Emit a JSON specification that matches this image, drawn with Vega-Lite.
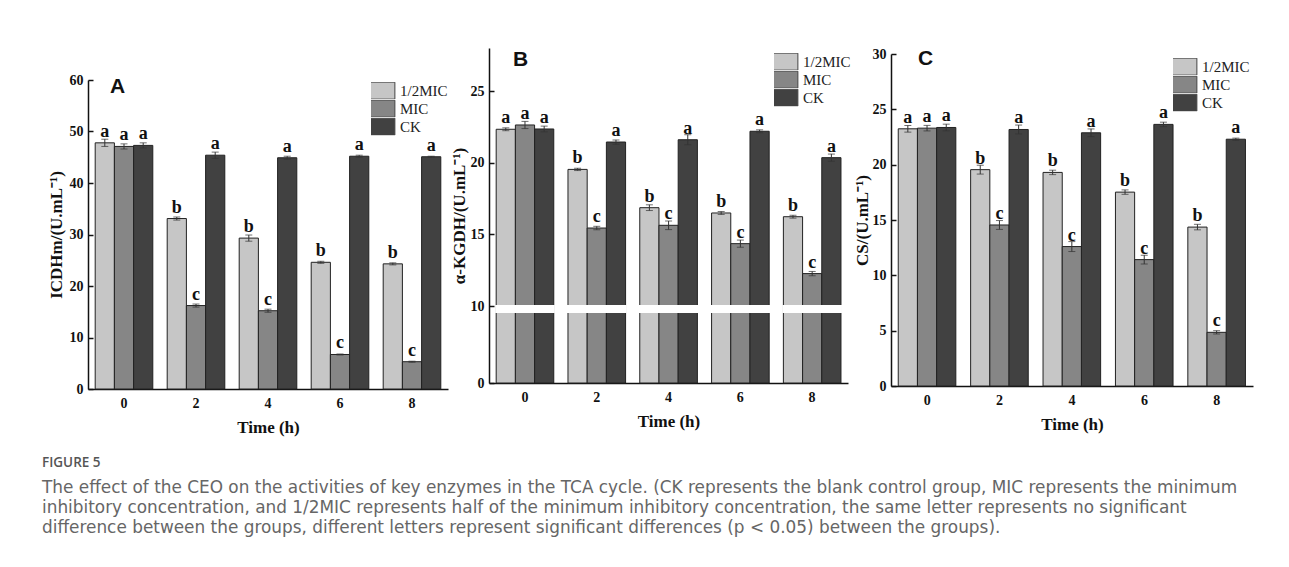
{
  "$schema": "https://vega.github.io/schema/vega-lite/v6.json",
  "padding": {"left": 42, "top": 47, "right": 10, "bottom": 10},
  "background": "white",
  "datasets": {
    "A": [
      {"time": "0", "group": "1/2MIC", "value": 47.8, "err": 0.7, "sig": "a"},
      {"time": "0", "group": "MIC", "value": 47.1, "err": 0.5, "sig": "a"},
      {"time": "0", "group": "CK", "value": 47.3, "err": 0.5, "sig": "a"},
      {"time": "2", "group": "1/2MIC", "value": 33.1, "err": 0.3, "sig": "b"},
      {"time": "2", "group": "MIC", "value": 16.2, "err": 0.3, "sig": "c"},
      {"time": "2", "group": "CK", "value": 45.4, "err": 0.6, "sig": "a"},
      {"time": "4", "group": "1/2MIC", "value": 29.3, "err": 0.6, "sig": "b"},
      {"time": "4", "group": "MIC", "value": 15.2, "err": 0.3, "sig": "c"},
      {"time": "4", "group": "CK", "value": 44.9, "err": 0.3, "sig": "a"},
      {"time": "6", "group": "1/2MIC", "value": 24.6, "err": 0.2, "sig": "b"},
      {"time": "6", "group": "MIC", "value": 6.7, "err": 0.1, "sig": "c"},
      {"time": "6", "group": "CK", "value": 45.2, "err": 0.2, "sig": "a"},
      {"time": "8", "group": "1/2MIC", "value": 24.3, "err": 0.2, "sig": "b"},
      {"time": "8", "group": "MIC", "value": 5.3, "err": 0.1, "sig": "c"},
      {"time": "8", "group": "CK", "value": 45.1, "err": 0.1, "sig": "a"}
    ],
    "B": [
      {"time": "0", "group": "1/2MIC", "value": 22.33, "err": 0.1, "sig": "a"},
      {"time": "0", "group": "MIC", "value": 22.63, "err": 0.25, "sig": "a"},
      {"time": "0", "group": "CK", "value": 22.35, "err": 0.2, "sig": "a"},
      {"time": "2", "group": "1/2MIC", "value": 19.53, "err": 0.08, "sig": "b"},
      {"time": "2", "group": "MIC", "value": 15.44, "err": 0.12, "sig": "c"},
      {"time": "2", "group": "CK", "value": 21.44, "err": 0.15, "sig": "a"},
      {"time": "4", "group": "1/2MIC", "value": 16.86, "err": 0.2, "sig": "b"},
      {"time": "4", "group": "MIC", "value": 15.63, "err": 0.3, "sig": "c"},
      {"time": "4", "group": "CK", "value": 21.6, "err": 0.35, "sig": "a"},
      {"time": "6", "group": "1/2MIC", "value": 16.49, "err": 0.1, "sig": "b"},
      {"time": "6", "group": "MIC", "value": 14.35, "err": 0.25, "sig": "c"},
      {"time": "6", "group": "CK", "value": 22.19, "err": 0.1, "sig": "a"},
      {"time": "8", "group": "1/2MIC", "value": 16.23, "err": 0.1, "sig": "b"},
      {"time": "8", "group": "MIC", "value": 12.26, "err": 0.15, "sig": "c"},
      {"time": "8", "group": "CK", "value": 20.35, "err": 0.25, "sig": "a"}
    ],
    "C": [
      {"time": "0", "group": "1/2MIC", "value": 23.24, "err": 0.3, "sig": "a"},
      {"time": "0", "group": "MIC", "value": 23.3, "err": 0.25, "sig": "a"},
      {"time": "0", "group": "CK", "value": 23.36, "err": 0.3, "sig": "a"},
      {"time": "2", "group": "1/2MIC", "value": 19.55, "err": 0.4, "sig": "b"},
      {"time": "2", "group": "MIC", "value": 14.55, "err": 0.4, "sig": "c"},
      {"time": "2", "group": "CK", "value": 23.18, "err": 0.4, "sig": "a"},
      {"time": "4", "group": "1/2MIC", "value": 19.3, "err": 0.2, "sig": "b"},
      {"time": "4", "group": "MIC", "value": 12.6, "err": 0.45, "sig": "c"},
      {"time": "4", "group": "CK", "value": 22.88, "err": 0.35, "sig": "a"},
      {"time": "6", "group": "1/2MIC", "value": 17.52, "err": 0.2, "sig": "b"},
      {"time": "6", "group": "MIC", "value": 11.42, "err": 0.4, "sig": "c"},
      {"time": "6", "group": "CK", "value": 23.64, "err": 0.2, "sig": "a"},
      {"time": "8", "group": "1/2MIC", "value": 14.36, "err": 0.25, "sig": "b"},
      {"time": "8", "group": "MIC", "value": 4.85, "err": 0.15, "sig": "c"},
      {"time": "8", "group": "CK", "value": 22.3, "err": 0.1, "sig": "a"}
    ]
  },
  "title": {
    "text": "FIGURE 5",
    "subtitle": [
      "The effect of the CEO on the activities of key enzymes in the TCA cycle. (CK represents the blank control group, MIC represents the minimum",
      "inhibitory concentration, and 1/2MIC represents half of the minimum inhibitory concentration, the same letter represents no significant",
      "difference between the groups, different letters represent significant differences (p < 0.05) between the groups)."
    ],
    "orient": "bottom",
    "anchor": "start",
    "frame": "bounds",
    "dx": -5,
    "offset": 21,
    "font": "Open Sans",
    "fontSize": 13.5,
    "fontWeight": 600,
    "color": "#555555",
    "subtitleFont": "DejaVu Sans",
    "subtitleFontSize": 16.9,
    "subtitleFontWeight": "normal",
    "subtitleColor": "#666666",
    "subtitleLineHeight": 20,
    "subtitlePadding": 10
  },
  "spacing": 2,
  "resolve": {
    "scale": {"fill": "independent", "y": "independent", "x": "independent"},
    "legend": {"fill": "independent"}
  },
  "hconcat": [
    {
      "width": 360,
      "height": 341,
      "data": {"name": "A"},
      "title": {"text": "A", "anchor": "start", "frame": "group", "font": "Liberation Sans", "fontSize": 21, "fontWeight": "bold", "color": "#111111", "baseline": "alphabetic", "offset": -66, "dx": 22},
      "encoding": {
        "y": {"field": "value", "type": "quantitative", "title": "ICDHm/(U.mL⁻¹)",
              "scale": {"domain": [0, 60], "range": [341, 32], "nice": false, "zero": false},
              "axis": {"values": [0, 10, 20, 30, 40, 50, 60], "titlePadding": 2}}
      },
      "layer": [
        {
          "mark": {"type": "bar", "stroke": "#222222", "strokeWidth": 1},
          "encoding": {
            "x": {"field": "time", "type": "nominal", "title": "Time (h)", "scale": {"paddingInner": 0.2, "paddingOuter": 0.1}},
            "xOffset": {"field": "group", "type": "nominal", "sort": ["1/2MIC", "MIC", "CK"]},
            "fill": {"field": "group", "type": "nominal",
                     "scale": {"domain": ["1/2MIC", "MIC", "CK"], "range": ["#c6c6c6", "#868686", "#414141"]},
                     "legend": {"orient": "none", "legendX": 283, "legendY": 34, "title": null, "symbolType": "M-1.75,-1H1.75V1H-1.75Z", "symbolSize": 289, "symbolStrokeColor": "#444444", "symbolStrokeWidth": 1, "labelFont": "Liberation Serif", "labelFontSize": 15, "labelColor": "#222222", "rowPadding": 0, "clipHeight": 17.3, "padding": 0, "labelOffset": 11}}
          }
        },
        {
          "mark": {"type": "errorbar", "ticks": {"size": 7}, "color": "#333333", "thickness": 1},
          "encoding": {
            "x": {"field": "time", "type": "nominal"},
            "xOffset": {"field": "group", "type": "nominal", "sort": ["1/2MIC", "MIC", "CK"]},
            "yError": {"field": "err"}
          }
        },
        {
          "mark": {"type": "text", "baseline": "alphabetic", "dy": -6, "font": "Liberation Serif", "fontWeight": "bold", "fontSize": 18, "color": "#111111"},
          "encoding": {
            "x": {"field": "time", "type": "nominal"},
            "xOffset": {"field": "group", "type": "nominal", "sort": ["1/2MIC", "MIC", "CK"]},
            "text": {"field": "sig"}
          }
        }
      ]
    },
    {
      "width": 359,
      "height": 335,
      "data": {"name": "B"},
      "title": {"text": "B", "anchor": "start", "frame": "group", "font": "Liberation Sans", "fontSize": 21, "fontWeight": "bold", "color": "#111111", "baseline": "alphabetic", "offset": -39, "dx": 24},
      "encoding": {
        "y": {"field": "value", "type": "quantitative", "title": "α-KGDH/(U.mL⁻¹)",
              "scale": {"domain": [0, 9.9, 10, 28], "range": [335, 264, 258, 0], "nice": false, "zero": false},
              "axis": {"values": [0, 10, 15, 20, 25], "titlePadding": 0}}
      },
      "layer": [
        {
          "mark": {"type": "bar", "stroke": "#222222", "strokeWidth": 1},
          "encoding": {
            "x": {"field": "time", "type": "nominal", "title": "Time (h)", "scale": {"paddingInner": 0.2, "paddingOuter": 0.1}},
            "xOffset": {"field": "group", "type": "nominal", "sort": ["1/2MIC", "MIC", "CK"]},
            "fill": {"field": "group", "type": "nominal",
                     "scale": {"domain": ["1/2MIC", "MIC", "CK"], "range": ["#c6c6c6", "#868686", "#414141"]},
                     "legend": {"orient": "none", "legendX": 285, "legendY": 5, "title": null, "symbolType": "M-1.75,-1H1.75V1H-1.75Z", "symbolSize": 289, "symbolStrokeColor": "#444444", "symbolStrokeWidth": 1, "labelFont": "Liberation Serif", "labelFontSize": 15, "labelColor": "#222222", "rowPadding": 0, "clipHeight": 17.3, "padding": 0, "labelOffset": 11}}
          }
        },
        {
          "mark": {"type": "bar", "fill": "white", "stroke": "white", "strokeWidth": 2},
          "encoding": {
            "x": {"field": "time", "type": "nominal"},
            "xOffset": {"field": "group", "type": "nominal", "sort": ["1/2MIC", "MIC", "CK"]},
            "y": {"datum": 9.9},
            "y2": {"datum": 10}
          }
        },
        {
          "mark": {"type": "errorbar", "ticks": {"size": 7}, "color": "#333333", "thickness": 1},
          "encoding": {
            "x": {"field": "time", "type": "nominal"},
            "xOffset": {"field": "group", "type": "nominal", "sort": ["1/2MIC", "MIC", "CK"]},
            "yError": {"field": "err"}
          }
        },
        {
          "mark": {"type": "text", "baseline": "alphabetic", "dy": -6, "font": "Liberation Serif", "fontWeight": "bold", "fontSize": 18, "color": "#111111"},
          "encoding": {
            "x": {"field": "time", "type": "nominal"},
            "xOffset": {"field": "group", "type": "nominal", "sort": ["1/2MIC", "MIC", "CK"]},
            "text": {"field": "sig"}
          }
        }
      ]
    },
    {
      "width": 362,
      "height": 338,
      "data": {"name": "C"},
      "title": {"text": "C", "anchor": "start", "frame": "group", "font": "Liberation Sans", "fontSize": 21, "fontWeight": "bold", "color": "#111111", "baseline": "alphabetic", "offset": -39, "dx": 27},
      "encoding": {
        "y": {"field": "value", "type": "quantitative", "title": "CS/(U.mL⁻¹)",
              "scale": {"domain": [0, 30], "range": [338, 6], "nice": false, "zero": false},
              "axis": {"values": [0, 5, 10, 15, 20, 25, 30], "titlePadding": -1}}
      },
      "layer": [
        {
          "mark": {"type": "bar", "stroke": "#222222", "strokeWidth": 1},
          "encoding": {
            "x": {"field": "time", "type": "nominal", "title": "Time (h)", "scale": {"paddingInner": 0.2, "paddingOuter": 0.1}},
            "xOffset": {"field": "group", "type": "nominal", "sort": ["1/2MIC", "MIC", "CK"]},
            "fill": {"field": "group", "type": "nominal",
                     "scale": {"domain": ["1/2MIC", "MIC", "CK"], "range": ["#c6c6c6", "#868686", "#414141"]},
                     "legend": {"orient": "none", "legendX": 282, "legendY": 10, "title": null, "symbolType": "M-1.75,-1H1.75V1H-1.75Z", "symbolSize": 289, "symbolStrokeColor": "#444444", "symbolStrokeWidth": 1, "labelFont": "Liberation Serif", "labelFontSize": 15, "labelColor": "#222222", "rowPadding": 0, "clipHeight": 17.3, "padding": 0, "labelOffset": 11}}
          }
        },
        {
          "mark": {"type": "errorbar", "ticks": {"size": 7}, "color": "#333333", "thickness": 1},
          "encoding": {
            "x": {"field": "time", "type": "nominal"},
            "xOffset": {"field": "group", "type": "nominal", "sort": ["1/2MIC", "MIC", "CK"]},
            "yError": {"field": "err"}
          }
        },
        {
          "mark": {"type": "text", "baseline": "alphabetic", "dy": -6, "font": "Liberation Serif", "fontWeight": "bold", "fontSize": 18, "color": "#111111"},
          "encoding": {
            "x": {"field": "time", "type": "nominal"},
            "xOffset": {"field": "group", "type": "nominal", "sort": ["1/2MIC", "MIC", "CK"]},
            "text": {"field": "sig"}
          }
        }
      ]
    }
  ],
  "config": {
    "view": {"stroke": null},
    "axis": {
      "grid": false,
      "domainColor": "#111111",
      "domainWidth": 1.5,
      "tickColor": "#111111",
      "tickWidth": 1.5,
      "labelFont": "Liberation Serif",
      "labelFontWeight": "bold",
      "labelFontSize": 14,
      "labelColor": "#111111",
      "titleFont": "Liberation Serif",
      "titleFontWeight": "bold",
      "titleFontSize": 17,
      "titleColor": "#111111"
    },
    "axisY": {"tickSize": -5, "labelPadding": 10, "minExtent": 21, "maxExtent": 21, "titlePadding": 4},
    "axisX": {"ticks": false, "labelPadding": 7, "titlePadding": 9, "labelAngle": 0}
  }
}
